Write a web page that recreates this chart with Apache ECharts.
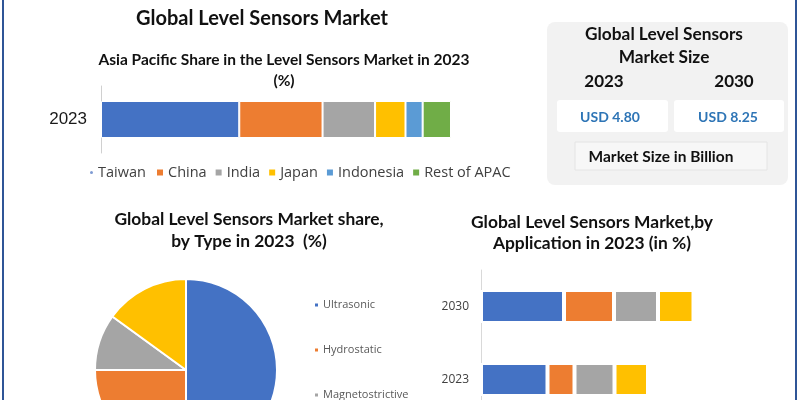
<!DOCTYPE html>
<html lang="en">
<head>
<meta charset="UTF-8" />
<title>Global Level Sensors Market</title>
<style>
  html, body { margin: 0; padding: 0; background: #ffffff; }
  #main { width: 800px; height: 400px; }
</style>
</head>
<body>
<div id="main"></div>

<script src="https://cdn.jsdelivr.net/npm/echarts@6/dist/echarts.min.js"></script>
<script>
  // data
  const apacRegions = ['Taiwan', 'China', 'India', 'Japan', 'Indonesia', 'Rest of APAC'];
  const apacShare = [39.5, 23.8, 15.0, 8.7, 4.9, 8.1];
  const apacYears = ['2023'];

  const typeNames = ['Ultrasonic', 'Hydrostatic', 'Magnetostrictive', 'Others'];
  const typeShare = [50, 25, 10, 15];

  const appYears = ['2023', '2030'];
  const appNames = ['Oil & Gas', 'Chemicals', 'Water & Wastewater', 'Food & Beverage'];
  const appValues = [
    [26.6, 33.2],
    [10.8, 20.0],
    [16.0, 17.6],
    [13.4, 14.2]
  ];

  const marketYears = ['2023', '2030'];
  const marketSize = [4.80, 8.25];

  const palette = ['#4472C4', '#ED7D31', '#A5A5A5', '#FFC000', '#5B9BD5', '#70AD47'];
  const titleFont = 'Lato, "Open Sans", sans-serif';

  const chart = echarts.init(document.getElementById('main'));

  // stacked bars - APAC share
  const apacSeries = apacRegions.map((name, i) => ({
    name: name,
    type: 'bar',
    stack: 'apac',
    xAxisIndex: 0,
    yAxisIndex: 0,
    barWidth: 37,
    itemStyle: { color: palette[i], borderColor: '#ffffff', borderWidth: 1 },
    data: [apacShare[i]]
  }));

  // stacked bars - by application
  const appSeries = appNames.map((name, i) => ({
    name: name,
    type: 'bar',
    stack: 'app',
    xAxisIndex: 1,
    yAxisIndex: 1,
    barWidth: 33,
    itemStyle: { color: palette[i], borderColor: '#ffffff', borderWidth: 2 },
    data: appValues[i]
  }));

  const pieSeries = {
    name: 'Type',
    type: 'pie',
    center: [186, 370],
    radius: 91,
    startAngle: 90,
    clockwise: true,
    label: { show: false },
    labelLine: { show: false },
    itemStyle: { borderColor: '#ffffff', borderWidth: 2 },
    data: typeNames.map((n, i) => ({ name: n, value: typeShare[i], itemStyle: { color: palette[i] } }))
  };

  chart.setOption({
    animation: false,
    backgroundColor: '#ffffff',
    title: [
      {
        text: 'Global Level Sensors Market',
        left: 262, top: 9, textAlign: 'center', padding: 0,
        textStyle: { fontFamily: titleFont, fontSize: 20, fontWeight: 'bold', color: '#111111' }
      },
      {
        text: 'Asia Pacific Share in the Level Sensors Market in 2023\n(%)',
        left: 284, top: 49, textAlign: 'center', padding: 0,
        textStyle: { fontFamily: titleFont, fontSize: 15.5, fontWeight: 'bold', color: '#111111', lineHeight: 21 }
      },
      {
        text: 'Global Level Sensors Market share,\nby Type in 2023  (%)',
        left: 249, top: 208, textAlign: 'center', padding: 0,
        textStyle: { fontFamily: titleFont, fontSize: 17.4, fontWeight: 'bold', color: '#111111', lineHeight: 22 }
      },
      {
        text: 'Global Level Sensors Market,by\nApplication in 2023 (in %)',
        left: 592, top: 212, textAlign: 'center', padding: 0,
        textStyle: { fontFamily: titleFont, fontSize: 17.4, fontWeight: 'bold', color: '#111111', lineHeight: 21 }
      }
    ],
    legend: [
      {
        data: [{ name: 'Taiwan', icon: 'circle', itemStyle: { color: '#7f9bd3' } }],
        left: 88, top: 165, padding: 0,
        itemWidth: 5, itemHeight: 5, itemGap: 7,
        textStyle: { fontFamily: 'Open Sans', fontSize: 14.5, color: '#404040', padding: [0, 0, 0, -1] },
        selectedMode: false
      },
      {
        data: apacRegions.slice(1),
        left: 155, top: 165, padding: 0,
        icon: 'rect', itemWidth: 8, itemHeight: 8, itemGap: 7,
        textStyle: { fontFamily: 'Open Sans', fontSize: 14.5, color: '#404040', padding: [0, 0, 0, -1] },
        selectedMode: false
      },
      {
        data: typeNames,
        orient: 'vertical',
        left: 313, top: 298, height: 300, padding: 0,
        icon: 'rect', itemWidth: 5, itemHeight: 5, itemGap: 31,
        textStyle: { fontFamily: 'Open Sans', fontSize: 11, color: '#595959', lineHeight: 14, padding: [0, 0, 0, -1] },
        selectedMode: false
      }
    ],
    grid: [
      { left: 101, top: 86, width: 350, height: 67, outerBoundsMode: 'none' },
      { left: 481, top: 270, width: 250, height: 146, outerBoundsMode: 'none' }
    ],
    xAxis: [
      { gridIndex: 0, type: 'value', min: 0, max: 100, show: false },
      { gridIndex: 1, type: 'value', min: 0, max: 100, show: false }
    ],
    yAxis: [
      {
        gridIndex: 0, type: 'category', data: apacYears,
        axisLine: { lineStyle: { color: '#d0d0d0' } },
        axisTick: { length: 4, lineStyle: { color: '#d0d0d0' } },
        axisLabel: { fontFamily: 'Liberation Sans', fontSize: 17, color: '#1a1a1a', margin: 14 }
      },
      {
        gridIndex: 1, type: 'category', data: appYears,
        axisLine: { lineStyle: { color: '#d9d9d9' } },
        axisTick: { length: 4, lineStyle: { color: '#d9d9d9' } },
        axisLabel: { fontFamily: 'Open Sans', fontSize: 12, color: '#404040', margin: 12 }
      }
    ],
    series: apacSeries.concat(appSeries, [pieSeries]),
    graphic: [
      // page frame lines
      { type: 'line', shape: { x1: 3, y1: 0, x2: 3, y2: 400 }, style: { stroke: '#2F5597', lineWidth: 2 } },
      { type: 'line', shape: { x1: 796, y1: 0, x2: 796, y2: 400 }, style: { stroke: '#2F5597', lineWidth: 2 } },
      // market size panel
      { type: 'rect', shape: { x: 547, y: 22, width: 241, height: 163, r: 8 }, style: { fill: '#f2f2f2' } },
      {
        type: 'text', x: 664, y: 34,
        style: { text: 'Global Level Sensors', align: 'center', verticalAlign: 'middle',
          font: 'bold 17.3px ' + titleFont, fill: '#111111' }
      },
      {
        type: 'text', x: 664, y: 57,
        style: { text: 'Market Size', align: 'center', verticalAlign: 'middle',
          font: 'bold 17.3px ' + titleFont, fill: '#111111' }
      },
      {
        type: 'text', x: 604, y: 82,
        style: { text: marketYears[0], align: 'center', verticalAlign: 'middle',
          font: 'bold 17px ' + titleFont, fill: '#111111' }
      },
      {
        type: 'text', x: 734, y: 82,
        style: { text: marketYears[1], align: 'center', verticalAlign: 'middle',
          font: 'bold 17px ' + titleFont, fill: '#111111' }
      },
      { type: 'rect', shape: { x: 557, y: 100, width: 111, height: 32, r: 3 }, style: { fill: '#ffffff' } },
      { type: 'rect', shape: { x: 674, y: 100, width: 110, height: 32, r: 3 }, style: { fill: '#ffffff' } },
      {
        type: 'text', x: 610, y: 117,
        style: { text: 'USD ' + marketSize[0].toFixed(2), align: 'center', verticalAlign: 'middle',
          font: 'bold 14px ' + titleFont, fill: '#2E75B6' }
      },
      {
        type: 'text', x: 728, y: 117,
        style: { text: 'USD ' + marketSize[1].toFixed(2), align: 'center', verticalAlign: 'middle',
          font: 'bold 14px ' + titleFont, fill: '#2E75B6' }
      },
      { type: 'rect', shape: { x: 575, y: 142, width: 192, height: 28 }, style: { fill: '#f7f7f7', stroke: '#e4e4e4', lineWidth: 1 } },
      {
        type: 'text', x: 661, y: 157,
        style: { text: 'Market Size in Billion', align: 'center', verticalAlign: 'middle',
          font: 'bold 15.5px ' + titleFont, fill: '#111111' }
      }
    ]
  });
</script>
</body>
</html>
